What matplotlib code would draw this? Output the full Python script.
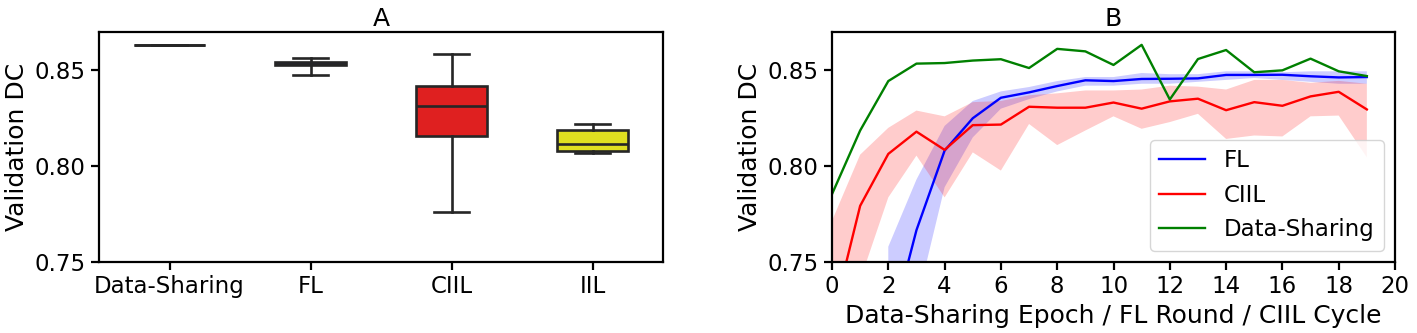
import matplotlib
matplotlib.use('Agg')
from matplotlib import pyplot as plt

# panel A: summary of best validation DC per method
methods = ['Data-Sharing', 'FL', 'CIIL', 'IIL']
box_colors = ['#20df20', '#2020df', '#df2020', '#dfdf20']
box_med = [0.8633, 0.8535, 0.8313, 0.8114]
box_q1 = [0.8633, 0.8526, 0.8155, 0.8078]
box_q3 = [0.8633, 0.8545, 0.8418, 0.8191]
box_lo = [0.8633, 0.8476, 0.7762, 0.8068]
box_hi = [0.8633, 0.8566, 0.8585, 0.8219]

# panel B: validation DC over training
rounds = list(range(20))
ds_mean = [0.7854, 0.8186, 0.8444, 0.8535, 0.8538, 0.8551, 0.8558, 0.8512, 0.8612, 0.8599,
           0.8528, 0.8633, 0.8348, 0.8559, 0.8606, 0.8490, 0.8500, 0.8561, 0.8495, 0.8470]

fl_rounds = list(range(2, 20))
fl_mean = [0.710, 0.7666, 0.8081, 0.8250, 0.8357, 0.8385, 0.8418, 0.8448, 0.8444, 0.8455,
           0.8456, 0.8458, 0.8476, 0.8476, 0.8477, 0.8469, 0.8463, 0.8465]
fl_lo = [0.660, 0.728, 0.789, 0.815, 0.830, 0.835, 0.839, 0.842, 0.842, 0.843,
         0.843, 0.844, 0.845, 0.846, 0.845, 0.844, 0.843, 0.843]
fl_hi = [0.758, 0.793, 0.821, 0.834, 0.839, 0.8413, 0.8444, 0.8465, 0.8465, 0.8486,
         0.848, 0.848, 0.8495, 0.8495, 0.849, 0.8495, 0.8495, 0.8495]

ciil_mean = [0.7196, 0.7793, 0.8064, 0.8180, 0.8085, 0.8214, 0.8217, 0.8310, 0.8305, 0.8305,
             0.8332, 0.8300, 0.8338, 0.8352, 0.8292, 0.8334, 0.8315, 0.8364, 0.8388, 0.8296]
ciil_lo = [0.670, 0.7405, 0.7837, 0.8055, 0.7837, 0.8072, 0.7977, 0.822, 0.811, 0.8186,
           0.826, 0.8195, 0.823, 0.8273, 0.8142, 0.816, 0.8155, 0.826, 0.8264, 0.8046]
ciil_hi = [0.7715, 0.806, 0.820, 0.829, 0.826, 0.8334, 0.834, 0.837, 0.838, 0.8395,
           0.8395, 0.840, 0.842, 0.8415, 0.840, 0.845, 0.845, 0.8435, 0.8445, 0.843]

LABEL = 18
TICK = 16.5
LEGEND = 16.5
EDGE = '#262626'

plt.rcParams['axes.linewidth'] = 1.6
plt.rcParams['xtick.major.width'] = 1.6
plt.rcParams['ytick.major.width'] = 1.6
plt.rcParams['xtick.major.size'] = 6
plt.rcParams['ytick.major.size'] = 6
plt.rcParams['xtick.labelsize'] = TICK
plt.rcParams['ytick.labelsize'] = TICK

fig = plt.figure(figsize=(14.17, 3.33), dpi=100)
ax1 = fig.add_axes([99 / 1417, 1 - 262 / 333, (663 - 99) / 1417, 230 / 333])
ax2 = fig.add_axes([832 / 1417, 1 - 262 / 333, (1395 - 832) / 1417, 230 / 333])

stats = []
for i, m in enumerate(methods):
    stats.append(dict(label=m, med=box_med[i], q1=box_q1[i], q3=box_q3[i],
                      whislo=box_lo[i], whishi=box_hi[i], fliers=[]))
bp = ax1.bxp(stats, positions=range(len(methods)), widths=0.5, capwidths=0.25,
             patch_artist=True, showfliers=False,
             boxprops=dict(edgecolor=EDGE, linewidth=1.9),
             whiskerprops=dict(color=EDGE, linewidth=1.9),
             capprops=dict(color=EDGE, linewidth=1.9),
             medianprops=dict(color=EDGE, linewidth=1.9))
for patch, c in zip(bp['boxes'], box_colors):
    patch.set_facecolor(c)
ax1.set_xlim(-0.5, len(methods) - 0.5)
ax1.set_ylim(0.75, 0.87)
ax1.set_yticks([0.75, 0.80, 0.85])
ax1.set_ylabel('Validation DC', fontsize=LABEL)
ax1.set_title('A', fontsize=LABEL, pad=4)

ax2.fill_between(fl_rounds, fl_lo, fl_hi, color='blue', alpha=0.2, lw=0)
ax2.fill_between(rounds, ciil_lo, ciil_hi, color='red', alpha=0.2, lw=0)
ax2.plot(fl_rounds, fl_mean, color='blue', lw=1.7, label='FL')
ax2.plot(rounds, ciil_mean, color='red', lw=1.7, label='CIIL')
ax2.plot(rounds, ds_mean, color='green', lw=1.7, label='Data-Sharing')
ax2.set_xlim(0, 20)
ax2.set_ylim(0.75, 0.87)
ax2.set_xticks(range(0, 21, 2))
ax2.set_yticks([0.75, 0.80, 0.85])
ax2.set_xlabel('Data-Sharing Epoch / FL Round / CIIL Cycle', fontsize=LABEL)
ax2.set_ylabel('Validation DC', fontsize=LABEL)
ax2.set_title('B', fontsize=LABEL, pad=4)
ax2.legend(loc='lower right', fontsize=LEGEND)

fig.savefig('out.png', dpi=100)
